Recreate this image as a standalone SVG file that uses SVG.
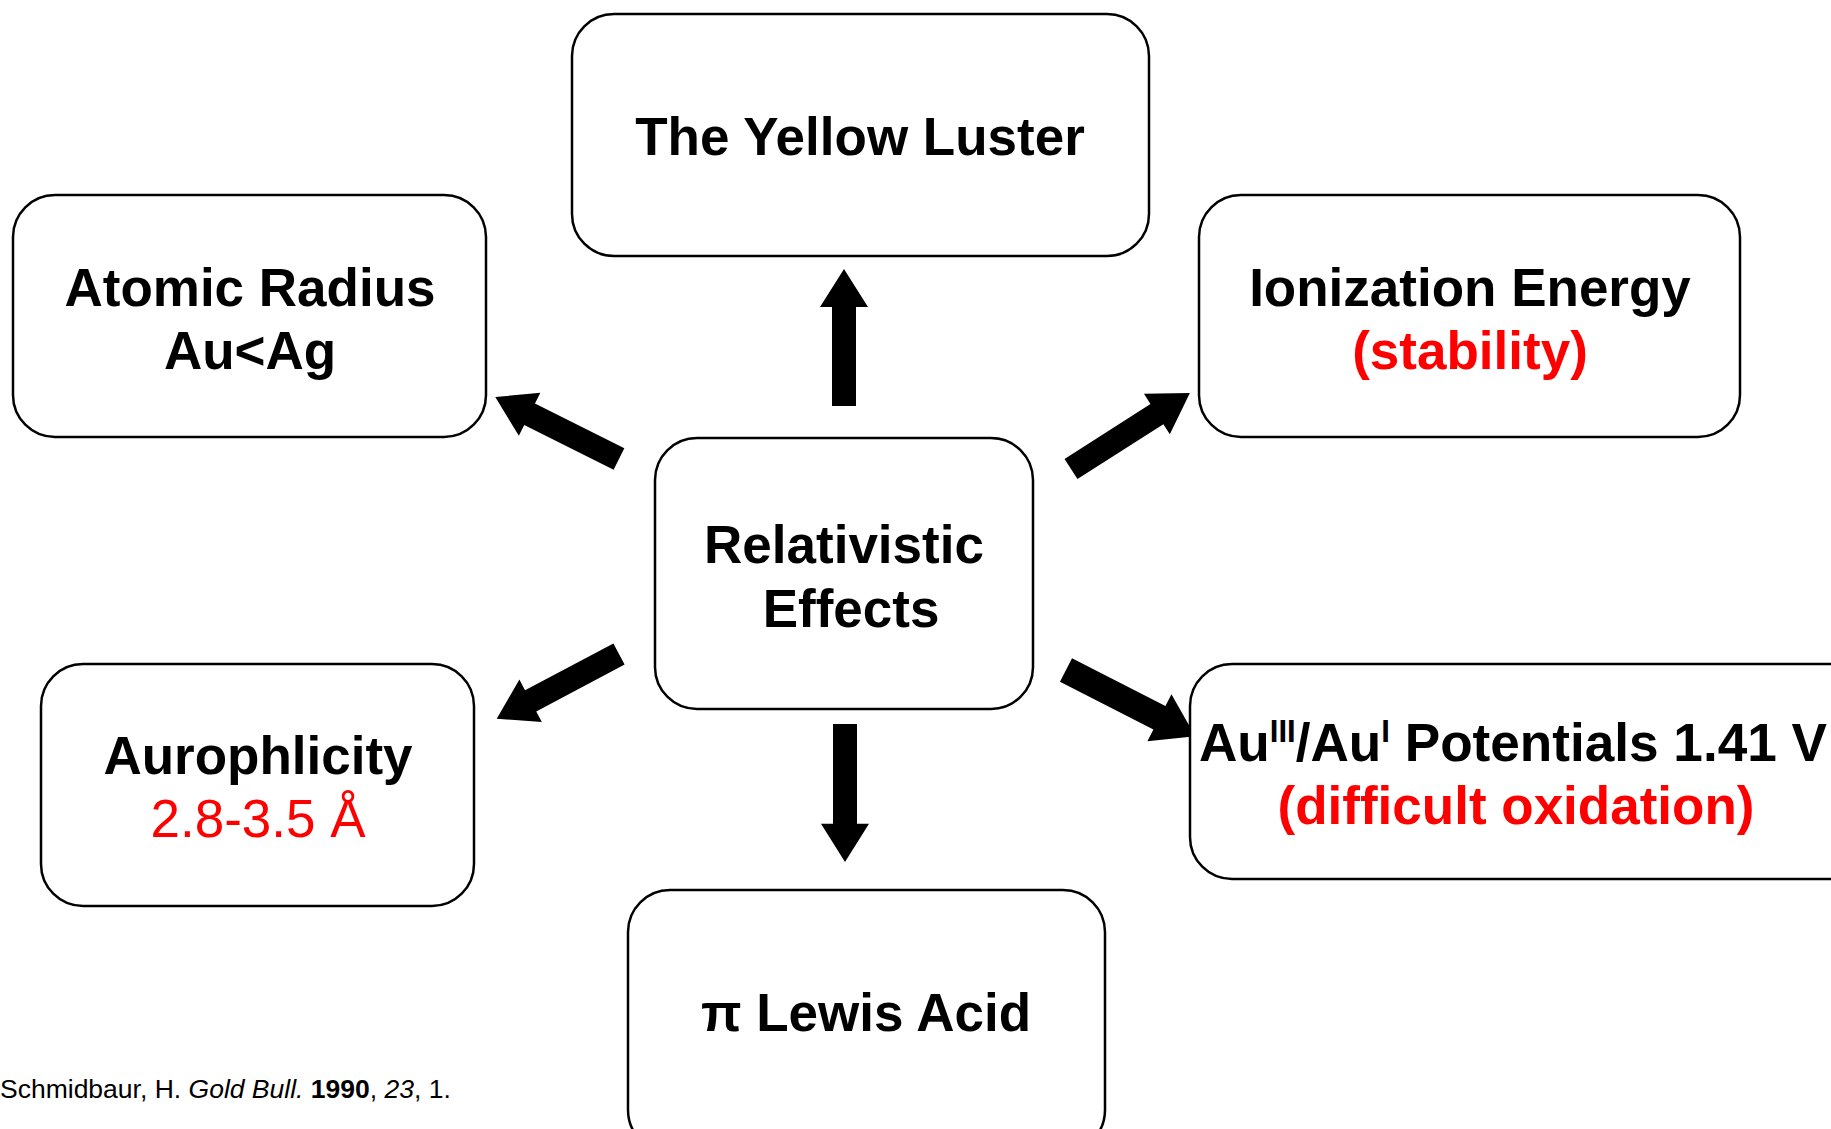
<svg xmlns="http://www.w3.org/2000/svg" xmlns:xlink="http://www.w3.org/1999/xlink" width="1831" height="1129" viewBox="0 0 1831 1129">
<style>
.box{fill:#fff;stroke:#000;stroke-width:2.5}
.t{font-family:"Liberation Sans",Arial,sans-serif;font-size:53px;font-weight:bold;fill:#000;text-anchor:middle}
.red{fill:#ff0000}
.reg{font-weight:normal}
.cite{font-family:"Liberation Sans",Arial,sans-serif;font-size:26.5px;fill:#000}
.arr{fill:#000}
</style>
<defs>
<path id="arrow" d="M0,-12 L99,-12 L99,-24 L137,0 L99,24 L99,12 L0,12 Z"/>
</defs>
<rect width="1831" height="1129" fill="#fff"/>
<g id="connectors" class="arr">
<use xlink:href="#arrow" transform="translate(844,406) rotate(-90)"/>
<use xlink:href="#arrow" transform="translate(845,724) rotate(90) scale(1.007,1)"/>
<use xlink:href="#arrow" transform="translate(619,459) rotate(206.6) scale(1.01,1)"/>
<use xlink:href="#arrow" transform="translate(1071,469) rotate(-32.6) scale(1.03,1)"/>
<use xlink:href="#arrow" transform="translate(619,654) rotate(152.1) scale(1.01,1)"/>
<use xlink:href="#arrow" transform="translate(1066,670) rotate(27.1) scale(1.06,1.1)"/>
</g>
<g id="node-yellow">
<rect class="box" x="572" y="14" width="577" height="242" rx="42"/>
<text class="t" x="860" y="155">The Yellow Luster</text>
</g>
<g id="node-atomic">
<rect class="box" x="13" y="195" width="473" height="242" rx="42"/>
<text class="t" x="250" y="306">Atomic Radius</text>
<text class="t" x="250" y="369">Au&lt;Ag</text>
</g>
<g id="node-ionization">
<rect class="box" x="1199" y="195" width="541" height="242" rx="42"/>
<text class="t" x="1470" y="306">Ionization Energy</text>
<text class="t red" x="1470" y="369">(stability)</text>
</g>
<g id="node-relativistic">
<rect class="box" x="655" y="438" width="378" height="271" rx="42"/>
<text class="t" x="844" y="563">Relativistic</text>
<text class="t" x="851" y="627">Effects</text>
</g>
<g id="node-aurophilicity">
<rect class="box" x="41" y="664" width="433" height="242" rx="42"/>
<text class="t" x="258" y="774">Aurophlicity</text>
<text class="t red reg" x="258" y="837">2.8-3.5 Å</text>
</g>
<g id="node-potentials">
<rect class="box" x="1190" y="664" width="680" height="215" rx="42"/>
<text class="t" x="1199" y="761" style="text-anchor:start" textLength="628" lengthAdjust="spacingAndGlyphs">Au<tspan font-size="31" dy="-19">III</tspan><tspan dy="19">/Au</tspan><tspan font-size="31" dy="-19">I</tspan><tspan dy="19"> Potentials 1.41 V</tspan></text>
<text class="t red" x="1516" y="824">(difficult oxidation)</text>
</g>
<g id="node-lewis">
<rect class="box" x="628" y="890" width="477" height="262" rx="42"/>
<text class="t" x="866" y="1031">π Lewis Acid</text>
</g>
<g id="citation">
<text class="cite" x="0" y="1098">Schmidbaur, H. <tspan font-style="italic">Gold Bull.</tspan> <tspan font-weight="bold">1990</tspan>, <tspan font-style="italic">23</tspan>, 1.</text>
</g>
</svg>
